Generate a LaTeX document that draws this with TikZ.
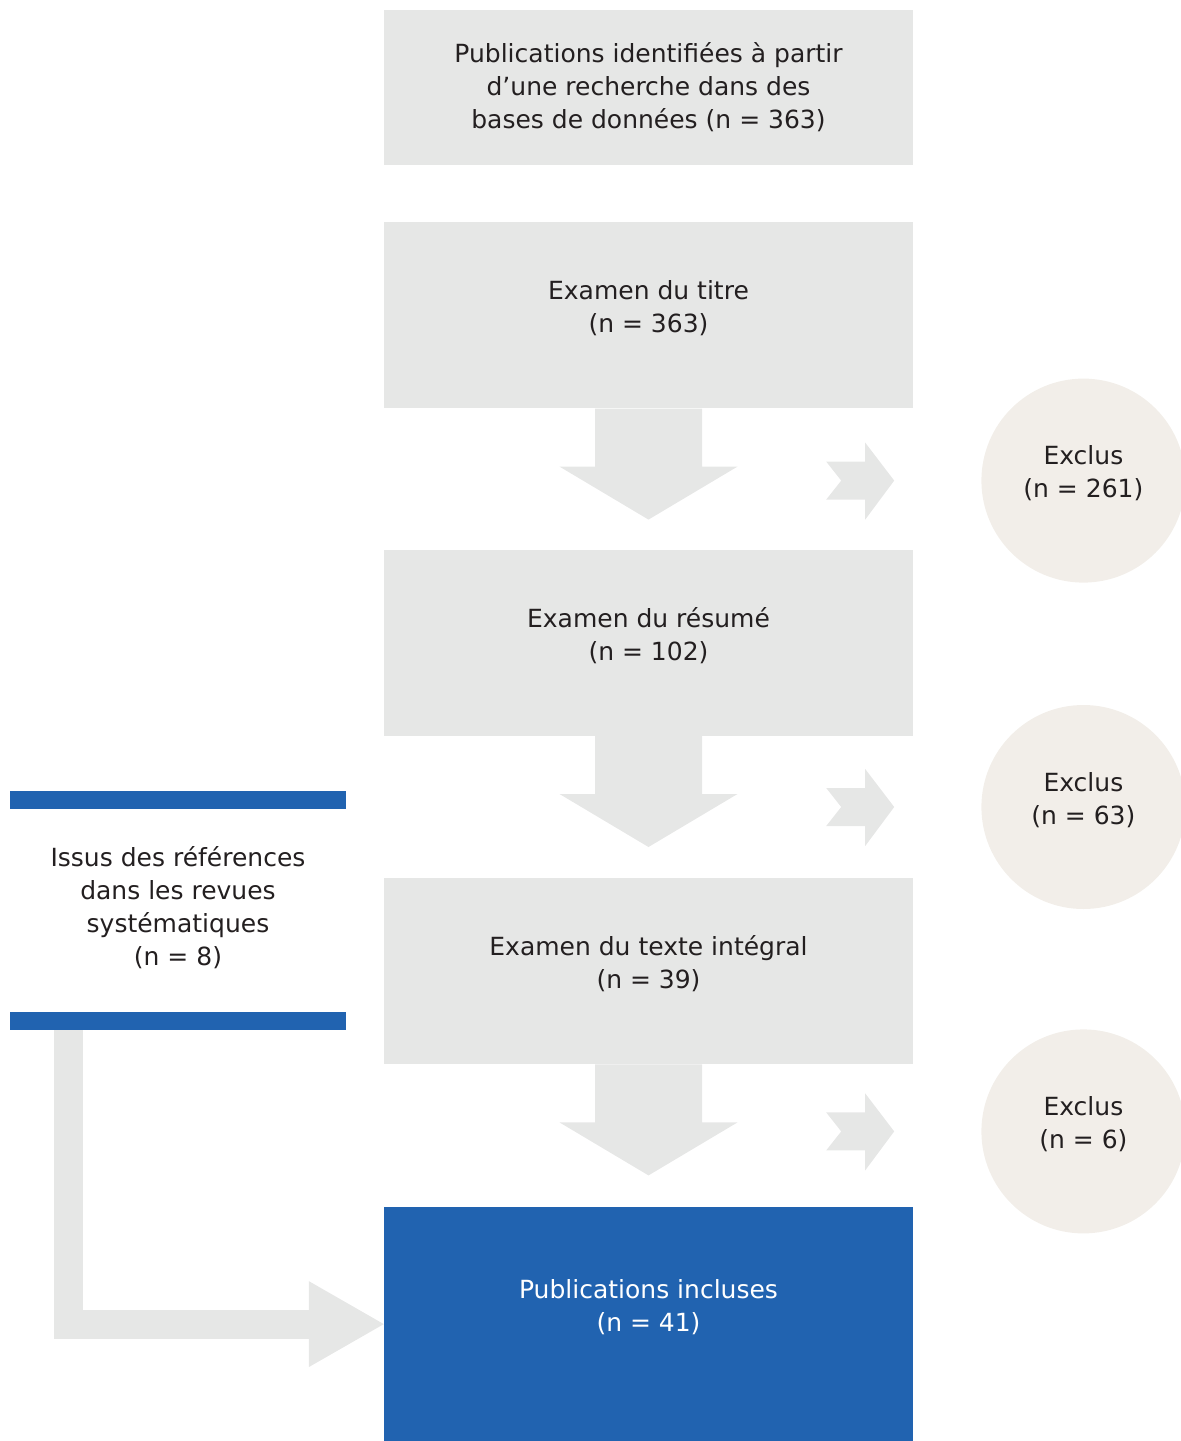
\documentclass[tikz,border=0pt]{standalone}
\usepackage{fontspec}
\setmainfont{DejaVu Sans}
\usetikzlibrary{positioning}
\definecolor{gris}{HTML}{E6E7E6}
\definecolor{beige}{HTML}{F2EEE9}
\definecolor{bleu}{HTML}{2163B0}
\definecolor{encre}{HTML}{231F20}

\tikzset{
	txt/.style={align=center, text=encre, inner sep=0pt,
		font=\fontsize{25}{33}\selectfont},
	remonte/.style={text depth=18pt},
	etape/.style={txt, fill=gris, minimum width=529pt, minimum height=186pt},
	incluses/.style={etape, fill=bleu, minimum height=235pt},
	exclus/.style={txt, remonte, circle, fill=beige, minimum size=204pt, anchor=west},
	barre/.style={fill=bleu, inner sep=0pt, minimum width=336pt, minimum height=18pt},
	descente/.pic={
		\fill[gris] (-53.5,0) -- (-53.5,-58) -- (-89,-58) -- (0,-111)
			-- (89,-58) -- (53.5,-58) -- (53.5,0) -- cycle;
	},
	chevron/.pic={
		\fill[gris] (0,19) -- (39,19) -- (39,38) -- (68,0) -- (39,-39)
			-- (39,-19) -- (0,-19) -- (15,0) -- cycle;
	}
}

\begin{document}
\begin{tikzpicture}[x=1pt, y=1pt]
		\useasboundingbox (0,0) rectangle (1181,-1441);
		\clip (0,0) rectangle (1181,-1441);

		\node [etape, minimum height=155pt] (base) at (648.5,-87.5)
			{Publications identifiées à partir\\d’une recherche dans des\\bases de données (n = 363)};
		\node [etape, remonte, below=57pt of base] (titre) {Examen du titre\\(n = 363)};
		\node [etape, remonte, below=141pt of titre] (resume) {Examen du résumé\\(n = 102)};
		\node [etape, remonte, below=142pt of resume] (texte) {Examen du texte intégral\\(n = 39)};
		\node [incluses, below=142pt of texte] (incl) {};
		\node [txt, text=white] (incltxt) at ([yshift=17pt]incl.center)
			{Publications incluses\\(n = 41)};

		% cercles des exclus
		\node [exclus] (ex1) at ([xshift=68pt, yshift=-72pt]titre.south east) {Exclus\\(n = 261)};
		\node [exclus] (ex2) at ([xshift=68pt, yshift=-71pt]resume.south east) {Exclus\\(n = 63)};
		\node [exclus] (ex3) at ([xshift=68pt, yshift=-67pt]texte.south east) {Exclus\\(n = 6)};

		% fleches
		\pic at (titre.south) {descente};
		\pic at (resume.south) {descente};
		\pic at (texte.south) {descente};
		\pic at ([xshift=-155pt]ex1.west) {chevron};
		\pic at ([xshift=-155pt]ex2.west) {chevron};
		\pic at ([xshift=-155pt]ex3.west) {chevron};

		% revues systematiques
		\node [barre] (barhaut) at (178,-800) {};
		\node [barre] (barbas) at (178,-1021) {};
		\node [txt] (issus) at (178,-907.5)
			{Issus des références\\dans les revues\\systématiques\\(n = 8)};
		\draw [gris, line width=29pt]
			([xshift=58.5pt]barbas.south west) |- ([xshift=-75pt]incl.west);
		\fill [gris] (incl.west) -- ++(-75,43) -- ++(0,-86) -- cycle;
	\end{tikzpicture}
\end{document}
